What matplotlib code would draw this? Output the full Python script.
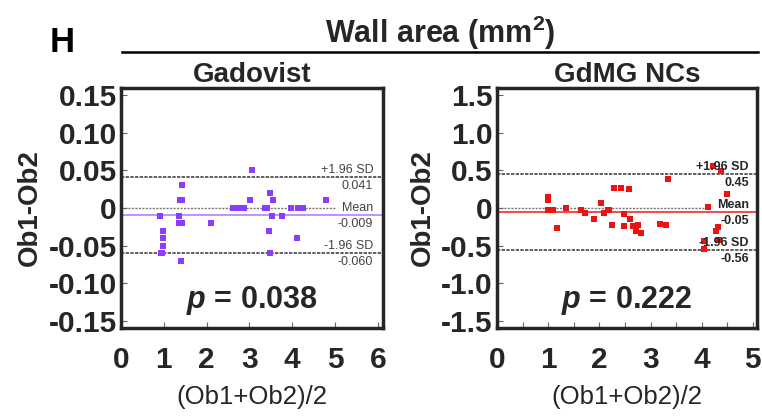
import matplotlib
matplotlib.use("Agg")
import matplotlib.pyplot as plt
from matplotlib.ticker import MultipleLocator

plt.rcParams['font.family'] = ['Liberation Sans', 'DejaVu Sans']
plt.rcParams['mathtext.fontset'] = 'custom'
plt.rcParams['mathtext.rm'] = 'Liberation Sans:bold'
plt.rcParams['mathtext.it'] = 'Liberation Sans:bold:italic'
plt.rcParams['mathtext.bf'] = 'Liberation Sans:bold'

# Gadovist: mean (x) and difference (y) between observers
gado_x = [0.90, 0.99, 0.99, 0.97, 0.93, 0.96, 1.42, 1.37, 1.43, 1.36, 1.36, 1.42,
          1.40, 2.10, 2.61, 2.76, 2.82, 2.88, 3.01, 3.05, 3.36, 3.41, 3.47, 3.56,
          3.52, 3.45, 3.48, 3.75, 3.96, 4.10, 4.13, 4.26, 4.79]
gado_y = [-0.01, -0.03, -0.04, -0.05, -0.06, -0.06, 0.03, 0.01, 0.01, -0.01, -0.02, -0.02,
          -0.07, -0.02, 0.0, 0.0, 0.0, 0.0, 0.01, 0.05, 0.0, 0.0, 0.02, 0.01,
          -0.01, -0.03, -0.06, -0.01, 0.0, -0.04, 0.0, 0.0, 0.01]
gado_stats = {"upper": 0.041, "mean": -0.009, "lower": -0.060}
gado_p = "0.038"

# GdMG NCs
gdmg_x = [0.99, 1.00, 0.99, 1.04, 1.09, 1.17, 1.35, 1.65, 1.72, 1.90, 2.03, 2.10,
          2.16, 2.19, 2.25, 2.29, 2.42, 2.49, 2.49, 2.58, 2.59, 2.66, 2.71, 2.76,
          2.82, 3.18, 3.31, 3.35, 4.04, 4.04, 4.13, 4.23, 4.28, 4.32, 4.34, 4.37, 4.49]
gdmg_y = [0.10, 0.15, -0.03, -0.02, -0.02, -0.27, 0.0, -0.03, -0.06, -0.15, 0.07, -0.07,
          -0.03, -0.03, -0.23, 0.26, 0.26, -0.08, -0.24, 0.25, -0.15, -0.24, -0.30, -0.22,
          -0.33, -0.21, -0.22, 0.38, -0.44, -0.54, 0.01, 0.56, -0.31, -0.25, -0.42, 0.49, 0.19]
gdmg_stats = {"upper": 0.45, "mean": -0.05, "lower": -0.56}
gdmg_p = "0.222"

gado_yticks = [0.15, 0.10, 0.05, 0, -0.05, -0.10, -0.15]
gado_ylabels = ["0.15", "0.10", "0.05", "0", "-0.05", "-0.10", "-0.15"]
gdmg_yticks = [1.5, 1.0, 0.5, 0, -0.5, -1.0, -1.5]
gdmg_ylabels = ["1.5", "1.0", "0.5", "0", "-0.5", "-1.0", "-1.5"]

dark = "#262626"

fig = plt.figure(figsize=(7.62, 4.16), dpi=100)
ax1 = fig.add_axes([0.1588, 0.2115, 0.3438, 0.5769])
ax2 = fig.add_axes([0.6522, 0.2115, 0.3412, 0.5769])


def draw(ax, x, y, st, p, title, yt, ylab, xmax, ylim, pc, lc, zero_end, lab_x,
         bold_labels, xticks, minor):
    ax.set_xlim(0, xmax)
    ax.set_ylim(-ylim, ylim)
    ax.hlines(0, 0, zero_end, colors="#777777", linestyles=(0, (1.5, 1)), lw=1.0, zorder=1)
    for key in ("upper", "lower"):
        ax.axhline(st[key], color="#444444", ls=(0, (2, 0.8)), lw=1.2, zorder=1)
    ax.axhline(st["mean"], color=lc, lw=1.3, zorder=1)
    ax.scatter(x, y, marker="s", s=15, color=pc, linewidths=0, zorder=3)

    tw = "bold" if bold_labels else "normal"
    tc = dark if bold_labels else "#444444"

    def fmt(v):
        s = ("%.3f" % v) if not bold_labels else ("%.2f" % v)
        return s

    labs = [("+1.96 SD", fmt(st["upper"]), st["upper"]),
            ("Mean", fmt(st["mean"]), st["mean"]),
            ("-1.96 SD", fmt(st["lower"]), st["lower"])]
    for top, bottom, v in labs:
        ax.annotate(top, xy=(lab_x, v), xytext=(0, 5), textcoords="offset points",
                    ha="right", va="center", fontsize=9, fontweight=tw, color=tc, zorder=4)
        ax.annotate(bottom, xy=(lab_x, v), xytext=(0, -6.5), textcoords="offset points",
                    ha="right", va="center", fontsize=9, fontweight=tw, color=tc, zorder=4)

    ax.text(0.5, 0.115, r"$p$ = " + p, transform=ax.transAxes, ha="center", va="center",
            fontsize=22, fontweight="bold", color=dark)

    ax.set_yticks(yt)
    ax.set_yticklabels(ylab)
    ax.set_xticks(xticks)
    ax.set_xticklabels([str(t) for t in xticks])
    if minor:
        ax.xaxis.set_minor_locator(MultipleLocator(0.5))
    ax.tick_params(axis="both", which="both", direction="in", length=4, width=0.8,
                   color="#666666", labelsize=21.5, labelcolor=dark, pad=3)
    ax.tick_params(axis="x", which="major", pad=13)
    for lab in ax.get_xticklabels() + ax.get_yticklabels():
        lab.set_fontweight("bold")
    for sp in ax.spines.values():
        sp.set_linewidth(2.5)
        sp.set_color(dark)
    ax.set_ylabel("Ob1-Ob2", fontsize=20, fontweight="bold", color=dark, labelpad=4)
    ax.set_xlabel("(Ob1+Ob2)/2", fontsize=18.5, color=dark, labelpad=8)
    ax.set_title(title, fontsize=20, fontweight="bold", color=dark, pad=3)


draw(ax1, gado_x, gado_y, gado_stats, gado_p, "Gadovist", gado_yticks, gado_ylabels,
     6.12, 0.159, "#8a3cff", "#b48cff", 5.0, 5.89, False, [0, 1, 2, 3, 4, 5, 6], False)
draw(ax2, gdmg_x, gdmg_y, gdmg_stats, gdmg_p, "GdMG NCs", gdmg_yticks, gdmg_ylabels,
     5.08, 1.59, "#ee1111", "#f03c3c", 4.1, 4.92, True, [0, 1, 2, 3, 4, 5], True)

fig.text(62 / 762, 1 - 42 / 416, "H", fontsize=25, fontweight="bold", color="black",
         ha="center", va="center")
fig.text(440 / 762, 1 - 33 / 416, r"Wall area (mm$^{2}$)", fontsize=22, fontweight="bold",
         color=dark, ha="center", va="center")
fig.add_artist(plt.Line2D([122 / 762, 758 / 762], [1 - 52 / 416, 1 - 52 / 416],
                          color="black", lw=1.8))

fig.savefig("out.png", dpi=100)
